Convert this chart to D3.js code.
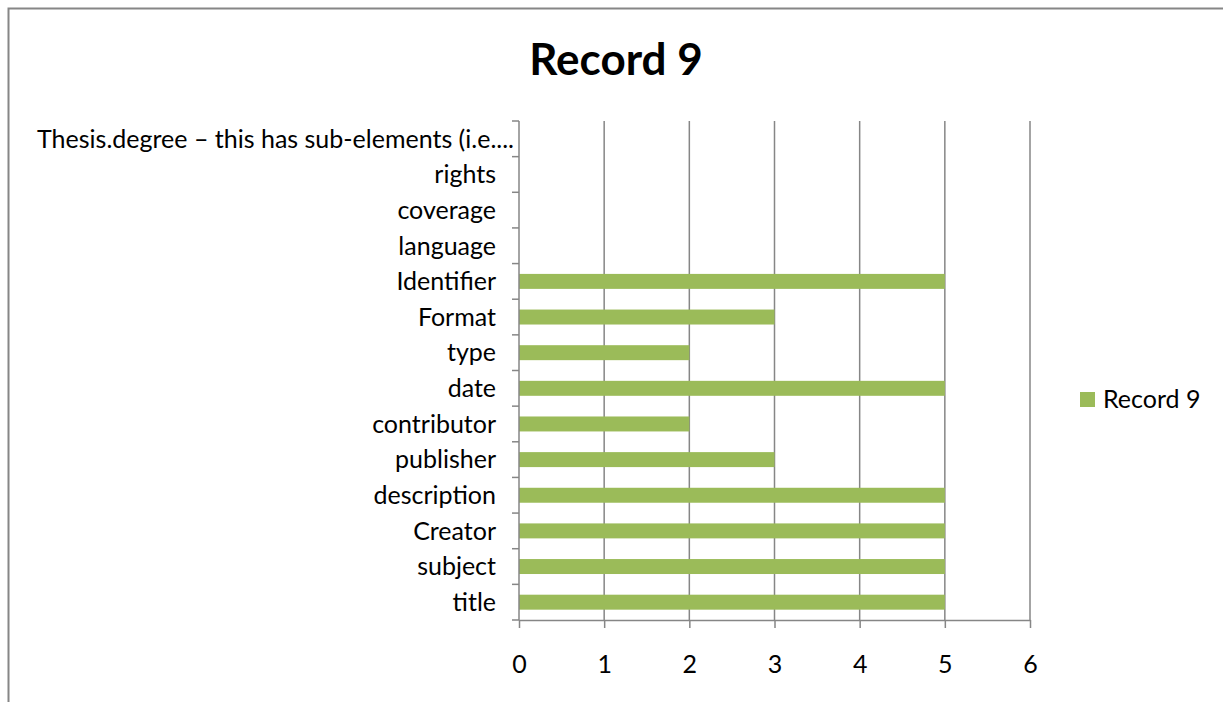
<!DOCTYPE html>
<html>
<head>
<meta charset="utf-8">
<script src="https://cdn.jsdelivr.net/npm/d3@7"></script>
<style>
  body { margin: 0; background: #fff; }
  text { font-family: Lato, "Open Sans", sans-serif; fill: #000; }
</style>
</head>
<body>
<div id="chart"></div>
<script>
// categories bottom to top, as in the sheet
var categories = ["title", "subject", "Creator", "description", "publisher", "contributor",
  "date", "type", "Format", "Identifier", "language", "coverage", "rights",
  "Thesis.degree – this has sub-elements (i.e...."];
var record9 = [5, 5, 5, 5, 3, 2, 5, 2, 3, 5, 0, 0, 0, 0];
var xTicks = [0, 1, 2, 3, 4, 5, 6];
var seriesName = "Record 9";

var W = 1223, H = 702;
var margin = {top: 121, left: 519, right: 193, bottom: 82};
var width = W - margin.left - margin.right,
    height = H - margin.top - margin.bottom;

var svg = d3.select("#chart").append("svg")
    .attr("width", W)
    .attr("height", H);

// outer chart border (runs off the right and bottom edge)
svg.append("path")
    .attr("d", "M8.5," + H + " V8.5 H" + W)
    .attr("fill", "none")
    .attr("stroke", "#868686")
    .attr("stroke-width", 2);

svg.append("text")
    .attr("x", 616).attr("y", 75)
    .attr("text-anchor", "middle")
    .style("font-size", "44px")
    .style("font-weight", "bold")
    .text(seriesName);

var g = svg.append("g")
    .attr("transform", "translate(" + margin.left + "," + margin.top + ")");

var x = d3.scaleLinear().domain([0, 6]).range([0, width]);
var y = d3.scaleBand().domain(categories.slice().reverse()).range([0, height]);

// vertical gridlines
g.selectAll(".grid").data(xTicks.slice(1)).enter().append("line")
    .attr("x1", d => x(d)).attr("x2", d => x(d))
    .attr("y1", 0).attr("y2", height)
    .attr("stroke", "#868686").attr("stroke-width", 1.5);

// bars
var bh = y.bandwidth() * 0.42;
g.selectAll(".bar").data(categories).enter().append("rect")
    .attr("x", 0)
    .attr("y", d => y(d) + (y.bandwidth() - bh) / 2)
    .attr("width", (d, i) => x(record9[i]))
    .attr("height", bh)
    .attr("fill", "#9BBB59");

// x axis
var xAxis = g.append("g")
    .attr("transform", "translate(0," + height + ")")
    .call(d3.axisBottom(x).tickValues(xTicks).tickFormat(d3.format("d"))
      .tickSize(8).tickSizeOuter(0).tickPadding(27));
xAxis.selectAll("line, path").attr("stroke", "#868686").attr("stroke-width", 1.5);
xAxis.selectAll("text").style("font-size", "25px").attr("font-family", null);

// y axis: ticks at band boundaries
var yAxisG = g.append("g");
yAxisG.append("line")
    .attr("x1", 0).attr("x2", 0).attr("y1", 0).attr("y2", height)
    .attr("stroke", "#868686").attr("stroke-width", 1.5);
var bounds = d3.range(categories.length + 1).map(i => i * y.step());
yAxisG.selectAll(".yt").data(bounds).enter().append("line")
    .attr("x1", -7).attr("x2", 0)
    .attr("y1", d => d).attr("y2", d => d)
    .attr("stroke", "#868686").attr("stroke-width", 1.5);
yAxisG.selectAll(".yl").data(categories).enter().append("text")
    .attr("x", d => d.endsWith("....") ? -5 : -23)
    .attr("y", d => y(d) + y.bandwidth() / 2)
    .attr("dy", "0.35em")
    .attr("text-anchor", "end")
    .style("font-size", "25px")
    .text(d => d);

// legend
var lg = svg.append("g").attr("transform", "translate(1080,392)");
lg.append("rect").attr("width", 15).attr("height", 15).attr("fill", "#9BBB59");
lg.append("text").attr("x", 23).attr("y", 7.5).attr("dy", "0.35em")
    .style("font-size", "25px").text(seriesName);
</script>
</body>
</html>
